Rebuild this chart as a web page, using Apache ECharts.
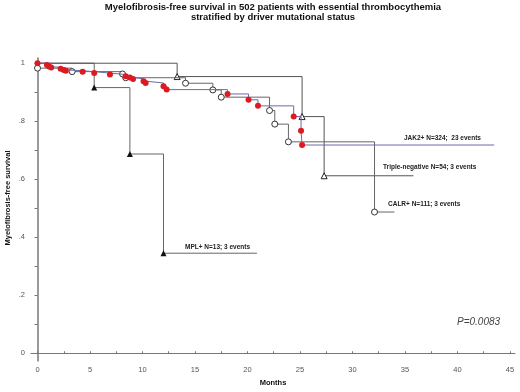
<!DOCTYPE html>
<html lang="en">

<head>
    <meta charset="UTF-8">
    <title>Myelofibrosis-free survival</title>
    <script src="https://cdn.jsdelivr.net/npm/echarts@6/dist/echarts.min.js"></script>
    <style>
        html, body {
            margin: 0;
            padding: 0;
            background: #fff;
        }

        #chart {
            width: 520px;
            height: 392px;
        }
    </style>
</head>

<body>
    <div id="chart"></div>
    <script>
        // survival steps (months, proportion free)
        var jak2Months = [0, 0.9, 1.1, 1.3, 2.2, 2.5, 2.7, 4.3, 5.4, 6.9, 8.4, 8.8, 9.1, 10.1, 10.3, 12.0, 12.3, 18.1, 20.1, 21.0, 24.4, 25.1, 25.2, 43.5];
        var jak2Surv = [1, 0.994, 0.989, 0.985, 0.981, 0.977, 0.974, 0.971, 0.966, 0.961, 0.955, 0.951, 0.946, 0.938, 0.932, 0.921, 0.909, 0.894, 0.874, 0.853, 0.816, 0.767, 0.718, 0.718];

        var calrMonths = [0, 3.3, 8.1, 8.4, 14.1, 16.7, 17.5, 22.1, 22.6, 23.9, 32.1, 34.0];
        var calrSurv = [0.983, 0.971, 0.963, 0.950, 0.931, 0.908, 0.883, 0.837, 0.790, 0.729, 0.487, 0.487];

        var tripleMonths = [0, 13.3, 25.2, 27.3, 35.8];
        var tripleSurv = [1, 0.954, 0.816, 0.612, 0.612];

        var mplMonths = [0, 5.4, 8.8, 12.0, 20.9];
        var mplSurv = [1, 0.916, 0.687, 0.345, 0.345];

        var xTickLabels = [0, 5, 10, 15, 20, 25, 30, 35, 40, 45];
        var xTicks = [0, 2.5, 5, 7.5, 10, 12.5, 15, 17.5, 20, 22.5, 25, 27.5, 30, 32.5, 35, 37.5, 40, 42.5, 45];
        var yTickLabels = [0, 0.2, 0.4, 0.6, 0.8, 1];
        var yTicks = [0, 0.1, 0.2, 0.3, 0.4, 0.5, 0.6, 0.7, 0.8, 0.9, 1];

        // pairs up the arrays; markers only where the curve steps (hideFirst/last)
        function stepData(months, surv, hideFirst) {
            var out = [];
            for (var i = 0; i < months.length; i++) {
                var item = { value: [months[i], surv[i]] };
                if ((i === 0 && hideFirst) || i === months.length - 1) {
                    item.symbol = 'none';
                }
                out.push(item);
            }
            return out;
        }

        function yFmt(v) {
            if (v === 0) return '0';
            if (v === 1) return '1';
            return String(v).replace(/^0/, '');
        }

        var labelFont = 'bold 6.5px "Liberation Sans", Arial, sans-serif';

        var myChart = echarts.init(document.getElementById('chart'), null, { renderer: 'canvas' });
        var option = {
            backgroundColor: '#fff',
            animation: false,
            title: {
                text: 'Myelofibrosis-free survival in 502 patients with essential thrombocythemia\nstratified by driver mutational status',
                left: 268,
                textAlign: 'center',
                top: -3,
                textStyle: {
                    fontFamily: '"Liberation Sans", Arial, sans-serif',
                    fontSize: 9.5,
                    fontWeight: 'bold',
                    color: '#111',
                    lineHeight: 10.5
                }
            },
            grid: {
                left: 31,
                right: 5,
                top: 58,
                bottom: 31,
                outerBoundsMode: 'none'
            },
            xAxis: {
                type: 'value',
                min: -0.62,
                max: 45.48,
                name: 'Months',
                nameLocation: 'middle',
                nameGap: 11,
                nameTextStyle: {
                    fontFamily: '"Liberation Sans", Arial, sans-serif',
                    fontSize: 7.5,
                    fontWeight: 'bold',
                    color: '#111'
                },
                axisLine: { lineStyle: { color: '#777', width: 1 } },
                axisTick: {
                    show: true,
                    inside: true,
                    length: 2,
                    customValues: xTicks,
                    lineStyle: { color: '#777' }
                },
                axisLabel: {
                    customValues: xTickLabels,
                    fontFamily: '"Liberation Sans", Arial, sans-serif',
                    fontSize: 7.5,
                    color: '#555',
                    margin: 5
                },
                splitLine: { show: false }
            },
            yAxis: {
                type: 'value',
                min: -0.0266,
                max: 1.018,
                axisLine: { show: true, lineStyle: { color: '#777', width: 1.5 } },
                axisTick: {
                    show: true,
                    length: 3,
                    customValues: yTicks,
                    lineStyle: { color: '#777' }
                },
                axisLabel: {
                    customValues: yTickLabels,
                    formatter: yFmt,
                    fontFamily: '"Liberation Sans", Arial, sans-serif',
                    fontSize: 7.5,
                    color: '#555',
                    margin: 6
                },
                splitLine: { show: false }
            },
            graphic: [
                {
                    type: 'text', x: 8, y: 198, rotation: Math.PI / 2,
                    style: {
                        text: 'Myelofibrosis-free survival',
                        font: 'bold 7.5px "Liberation Sans", Arial, sans-serif',
                        fill: '#111', textAlign: 'center', textVerticalAlign: 'middle'
                    }
                },
                {
                    type: 'text', x: 404, y: 138,
                    style: { text: 'JAK2+ N=324;  23 events', font: labelFont, fill: '#222', textVerticalAlign: 'middle' }
                },
                {
                    type: 'text', x: 383, y: 167,
                    style: { text: 'Triple-negative N=54; 3 events', font: labelFont, fill: '#222', textVerticalAlign: 'middle' }
                },
                {
                    type: 'text', x: 388, y: 204,
                    style: { text: 'CALR+ N=111; 3 events', font: labelFont, fill: '#222', textVerticalAlign: 'middle' }
                },
                {
                    type: 'text', x: 185, y: 247,
                    style: { text: 'MPL+ N=13; 3 events', font: labelFont, fill: '#222', textVerticalAlign: 'middle' }
                },
                {
                    type: 'text', x: 457, y: 322,
                    style: { text: 'P=0.0083', font: 'italic 10px "Liberation Sans", Arial, sans-serif', fill: '#444', textVerticalAlign: 'middle' }
                }
            ],
            series: [
                {
                    name: 'MPL+',
                    type: 'line',
                    step: 'end',
                    data: stepData(mplMonths, mplSurv, true),
                    symbol: 'triangle',
                    symbolSize: 6,
                    showAllSymbol: true,
                    lineStyle: { color: '#666', width: 1 },
                    itemStyle: { color: '#111', borderWidth: 0 },
                    z: 2
                },
                {
                    name: 'Triple-negative',
                    type: 'line',
                    step: 'end',
                    data: stepData(tripleMonths, tripleSurv, true),
                    symbol: 'triangle',
                    symbolSize: 6,
                    showAllSymbol: true,
                    lineStyle: { color: '#555', width: 1 },
                    itemStyle: { color: '#fff', borderColor: '#222', borderWidth: 1 },
                    z: 3
                },
                {
                    name: 'CALR+',
                    type: 'line',
                    step: 'end',
                    data: stepData(calrMonths, calrSurv, false),
                    symbol: 'circle',
                    symbolSize: 6,
                    showAllSymbol: true,
                    lineStyle: { color: '#666', width: 1 },
                    itemStyle: { color: '#fff', borderColor: '#333', borderWidth: 1 },
                    z: 4
                },
                {
                    name: 'JAK2+',
                    type: 'line',
                    step: 'end',
                    data: stepData(jak2Months, jak2Surv, false),
                    symbol: 'circle',
                    symbolSize: 6,
                    showAllSymbol: true,
                    lineStyle: { color: '#6a6aa8', width: 1 },
                    itemStyle: { color: '#dd1a22', borderWidth: 0 },
                    z: 5
                }
            ]
        };
        myChart.setOption(option);
    </script>
</body>

</html>
